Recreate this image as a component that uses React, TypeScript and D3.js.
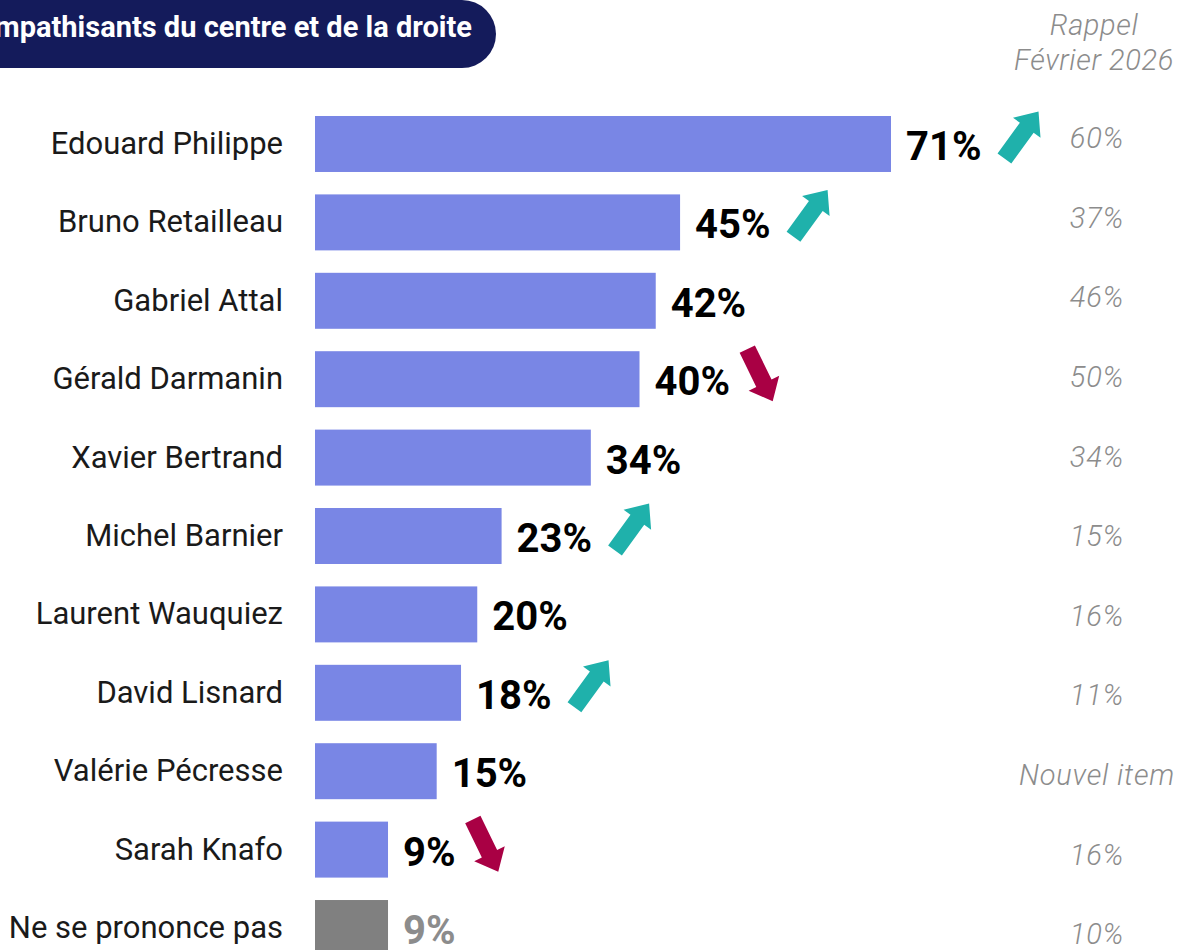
import React from "react";
import * as d3 from "d3";

const names = [
  "Edouard Philippe",
  "Bruno Retailleau",
  "Gabriel Attal",
  "Gérald Darmanin",
  "Xavier Bertrand",
  "Michel Barnier",
  "Laurent Wauquiez",
  "David Lisnard",
  "Valérie Pécresse",
  "Sarah Knafo",
  "Ne se prononce pas",
];
const values = [71, 45, 42, 40, 34, 23, 20, 18, 15, 9, 9];
const rappel = ["60%", "37%", "46%", "50%", "34%", "15%", "16%", "11%", "Nouvel item", "16%", "10%"];
const trends: (string | null)[] = ["up", "up", null, "down", null, "up", null, "up", null, "down", null];
const neutralIndex = 10;
const headerTitle = "Sympathisants du centre et de la droite";
const rappelHeader = ["Rappel", "Février 2026"];

const W = 1179;
const H = 950;
const FONT = "Roboto, 'DejaVu Sans', sans-serif";
const VALUE_SIZE = 40;

function measure(text: string, font: string): number {
  if (typeof document === "undefined") return text.length * 20;
  const c = document.createElement("canvas");
  const ctx = c.getContext("2d");
  if (!ctx) return text.length * 20;
  ctx.font = font;
  return ctx.measureText(text).width;
}

export default function App() {
  const x = d3.scaleLinear().domain([0, 71]).range([315, 891]);
  const y = d3
    .scaleBand<number>()
    .domain(d3.range(names.length))
    .range([116, 956])
    .paddingInner(0.286)
    .paddingOuter(0);
  const yRappel = d3
    .scalePoint<number>()
    .domain(d3.range(names.length))
    .range([138, 934]);

  const L = 58;
  const hs = 38;
  const hw = 8.5;
  const HW = 17;
  const arrowPath = d3.line()([
    [0, -hw],
    [hs, -hw],
    [hs, -HW],
    [L, 0],
    [hs, HW],
    [hs, hw],
    [0, hw],
  ] as [number, number][]) + "Z";

  return (
    <svg
      width={W}
      height={H}
      style={{ position: "absolute", left: 0, top: 0, background: "#fff" }}
    >
      <rect x={-80} y={0} width={576} height={68} rx={34} fill="#141b5b" />
      <text
        x={472}
        y={37}
        textAnchor="end"
        fill="#fff"
        fontFamily={FONT}
        fontWeight={700}
        fontSize={29}
      >
        {headerTitle}
      </text>

      {rappelHeader.map((t, i) => (
        <text
          key={t}
          x={1094}
          y={25 + i * 35}
          dy="0.35em"
          textAnchor="middle"
          fill="#8c8c8c"
          fontFamily={FONT}
          fontStyle="italic"
          fontWeight={300}
          fontSize={29}
          letterSpacing={0.6}
        >
          {t}
        </text>
      ))}

      {names.map((n, i) => {
        const yc = (y(i) as number) + y.bandwidth() / 2;
        const neutral = i === neutralIndex;
        const label = `${values[i]}%`;
        const lx = x(values[i]) + 15;
        const lw = measure(label, `700 ${VALUE_SIZE}px Roboto`);
        const t = trends[i];
        let arrow = null;
        if (t) {
          const up = t === "up";
          const cx = lx + lw + (up ? 40 : 30);
          const cy = yc + (up ? -9 : -4);
          const ang = up ? -54 : 64;
          arrow = (
            <path
              d={arrowPath}
              fill={up ? "#1fb1ab" : "#a90044"}
              transform={`translate(${cx},${cy}) rotate(${ang}) translate(${-L / 2},0)`}
            />
          );
        }
        return (
          <g key={n}>
            <text
              x={283}
              y={yc}
              dy="0.32em"
              textAnchor="end"
              fill="#1a1a1a"
              fontFamily={FONT}
              fontSize={31}
            >
              {n}
            </text>
            <rect
              x={x(0)}
              y={y(i)}
              width={x(values[i]) - x(0)}
              height={y.bandwidth()}
              fill={neutral ? "#808080" : "#7986e5"}
            />
            <text
              x={lx}
              y={Math.min(yc + 16, 945)}
              fill={neutral ? "#8c8c8c" : "#000"}
              fontFamily={FONT}
              fontWeight={700}
              fontSize={VALUE_SIZE}
            >
              {label}
            </text>
            {arrow}
            <text
              x={1097}
              y={yRappel(i)}
              dy="0.35em"
              textAnchor="middle"
              fill="#8c8c8c"
              fontFamily={FONT}
              fontStyle="italic"
              fontWeight={300}
              fontSize={29}
              letterSpacing={0.8}
            >
              {rappel[i]}
            </text>
          </g>
        );
      })}
    </svg>
  );
}
